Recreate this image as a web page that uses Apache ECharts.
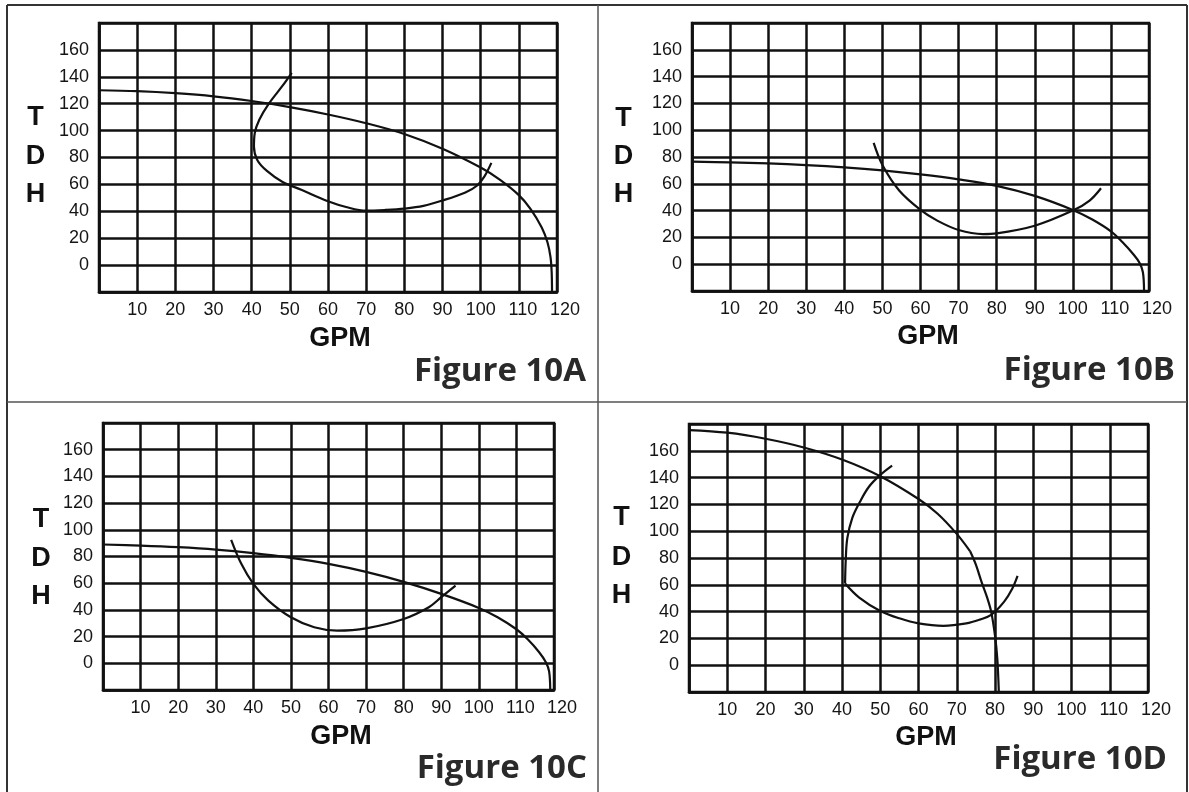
<!DOCTYPE html>
<html>
<head>
<meta charset="utf-8">
<script src="https://cdn.jsdelivr.net/npm/echarts/dist/echarts.min.js"></script>
<style>
  html, body { margin: 0; padding: 0; background: #fff; }
  #chart { width: 1189px; height: 792px; }
</style>
</head>
<body>
<div id="chart"></div>
<script>
// Tick labels shared by all four pump charts
const gpmTicks = [10, 20, 30, 40, 50, 60, 70, 80, 90, 100, 110, 120];
const tdhTicks = [0, 20, 40, 60, 80, 100, 120, 140, 160];

const captions = ['Figure 10A', 'Figure 10B', 'Figure 10C', 'Figure 10D'];

// Figure 10A: pump head curve and operating loop, [GPM, TDH]
const headA = [[0,130],[10,129.3],[20,127.8],[30,125.5],[40,122],[50,117.5],[60,112],[70,105.5],
  [80,97.5],[90,86.5],[100,72.5],[105,63.5],[110,52],[113,42],[116,28],[117.5,17],[118.3,6],
  [118.6,-5],[118.7,-20]];
const loopA = [[50.5,143],[48,133],[44.5,120],[42,108],[40.8,98],[40.6,88],[41.5,78],[44,70],
  [48,62],[53,56],[60,47.5],[65,43],[70,40.5],[75,41],[80,42],[85,44],[90,48],[96,54],
  [99,59],[101,66],[102.8,76]];

// Figure 10B
const headB = [[0,76.5],[10,76],[20,75.2],[30,74],[40,72.3],[50,70],[60,67],[70,63.3],[80,58.5],
  [90,51],[100,40.5],[105,33.5],[110,24.5],[113,16.5],[116,7],[117.5,1],[118.4,-6],[118.7,-20]];
const loopB = [[47.7,90.5],[50,74],[54.4,55],[60,40.5],[64.4,32.5],[70,25.5],[76.4,22.5],[80,23],
  [90,28.7],[100,40],[104.4,47.5],[107.4,56.7]];

// Figure 10C
const headC = [[0,89],[10,88.2],[20,87],[30,85.2],[40,82.5],[50,79],[60,74.5],[70,68.5],[80,61],
  [90,52],[100,41.5],[105,34.5],[110,25.5],[113,18],[116,8.5],[117.8,1],[118.7,-6],[119,-20]];
const loopC = [[34.1,92.5],[36.8,74.5],[40,59.5],[44,47],[50,34.5],[56.2,27],[62.3,24.5],[70,26.2],
  [80,33.2],[86.7,42],[90,49.5],[93.8,58.2]];

// Figure 10D (head curve has a bend near 73 GPM, loop a corner near 41 GPM)
const headD1 = [[0,175.5],[10,173.5],[20,169],[30,162.5],[40,153.5],[50,141],[60,124],[65,113],
  [70,98],[73.5,85]];
const headD2 = [[73.5,85],[75,75],[76.5,62],[78,50],[79,40],[80,22],[80.6,5],[81,-20]];
const loopD1 = [[53.1,149],[50,142],[47,133],[44.7,122],[42.7,110],[41.4,95],[41,80],[40.8,61]];
const loopD2 = [[40.8,61],[44.5,50.5],[50,40.5],[55,35],[60,31.2],[66.5,29.4],[72.5,31.2],[76,34],
  [79,37.5],[82.4,47.4],[84.5,57],[85.9,66.6]];

const panelCurves = [
  [headA, loopA],
  [headB, loopB],
  [headC, loopC],
  [headD1, headD2, loopD1, loopD2]
];

// Layout of the four plotting areas (pixels)
const layout = [
  { grid: { left: 99,  top: 23,  width: 458, height: 269 }, tdh: [35.5, 118, 157, 195], gpm: [340, 339], cap: [586, 372] },
  { grid: { left: 692, top: 23,  width: 457, height: 268 }, tdh: [623.5, 119, 157, 195], gpm: [928, 337], cap: [1175, 371] },
  { grid: { left: 103, top: 423, width: 451, height: 267 }, tdh: [41, 520, 558.5, 597], gpm: [341, 737], cap: [587, 769] },
  { grid: { left: 689, top: 424, width: 459, height: 268 }, tdh: [621.5, 518, 558, 596], gpm: [926, 738], cap: [1167, 760] }
];

const INK = '#111';
const gridLine = { color: INK, width: 2.5 };
const tickFont = { fontSize: 18, color: '#151515', fontFamily: '"Liberation Sans", Arial, sans-serif' };

const grids = [], xAxes = [], yAxes = [], series = [], graphics = [];

layout.forEach((p, i) => {
  grids.push(Object.assign({ show: true, borderColor: INK, borderWidth: 2.5, backgroundColor: '#fff' }, p.grid));
  xAxes.push({
    gridIndex: i, type: 'value', min: 0, max: 120, interval: 10,
    axisLine: { show: true, onZero: false, lineStyle: gridLine },
    axisTick: { show: false },
    splitLine: { show: true, lineStyle: gridLine },
    axisLabel: Object.assign({
      margin: 9, showMinLabel: true, showMaxLabel: true,
      formatter: v => {
        if (!gpmTicks.includes(v)) return '';
        if (v === 110) return '{w|' + v + '}';
        if (v === 120) return '{ww|' + v + '}';
        return String(v);
      },
      rich: {
        w: Object.assign({ padding: [0, 0, 0, 8] }, tickFont),
        ww: Object.assign({ padding: [0, 0, 0, 16] }, tickFont)
      }
    }, tickFont)
  });
  yAxes.push({
    gridIndex: i, type: 'value', min: -20, max: 180, interval: 20,
    axisLine: { show: true, onZero: false, lineStyle: gridLine },
    axisTick: { show: false },
    splitLine: { show: true, lineStyle: gridLine },
    axisLabel: Object.assign({
      margin: 10,
      formatter: v => tdhTicks.includes(v) ? String(v) : ''
    }, tickFont)
  });
  panelCurves[i].forEach(curve => {
    series.push({
      type: 'line', xAxisIndex: i, yAxisIndex: i, data: curve,
      smooth: 0.35, symbol: 'none', silent: true,
      lineStyle: { color: INK, width: 2.2 }
    });
  });

  // T / D / H stacked axis title
  ['T', 'D', 'H'].forEach((ch, k) => {
    graphics.push({
      type: 'text', silent: true,
      style: { text: ch, x: p.tdh[0], y: p.tdh[k + 1], textAlign: 'center', textVerticalAlign: 'middle',
        font: 'bold 27px "Liberation Sans", Arial, sans-serif', fill: INK }
    });
  });
  graphics.push({
    type: 'text', silent: true,
    style: { text: 'GPM', x: p.gpm[0], y: p.gpm[1], textAlign: 'center', textVerticalAlign: 'middle',
      font: 'bold 27px "Liberation Sans", Arial, sans-serif', fill: INK }
  });
  graphics.push({
    type: 'text', silent: true,
    style: { text: captions[i], x: p.cap[0], y: p.cap[1], textAlign: 'right', textVerticalAlign: 'middle',
      font: 'bold 33px "Open Sans", Lato, sans-serif', fill: '#2a2a2a' }
  });
});

// Frame around the four figures and the dividers between them
const frame = { stroke: '#333', lineWidth: 2 };
const divider = { stroke: '#555', lineWidth: 1.5 };
[
  [[7, 5], [1187, 5], frame],
  [[7, 5], [7, 792], frame],
  [[1187, 5], [1187, 792], frame],
  [[598, 5], [598, 792], divider],
  [[7, 402], [1187, 402], divider]
].forEach(([a, b, st]) => {
  graphics.push({ type: 'line', silent: true, z: 100,
    shape: { x1: a[0], y1: a[1], x2: b[0], y2: b[1] }, style: st });
});

const chart = echarts.init(document.getElementById('chart'), null, { renderer: 'canvas' });
chart.setOption({
  animation: false,
  backgroundColor: '#fff',
  grid: grids,
  xAxis: xAxes,
  yAxis: yAxes,
  series: series,
  graphic: graphics
});
</script>
</body>
</html>
